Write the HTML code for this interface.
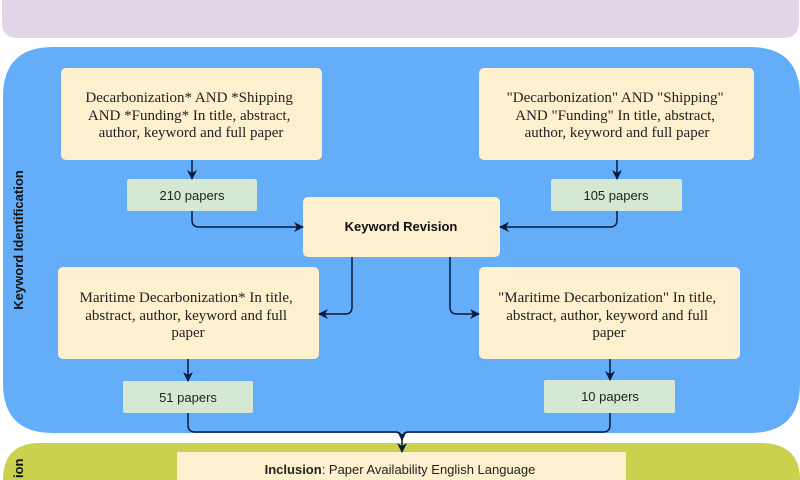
<!DOCTYPE html>
<html><head><meta charset="utf-8"><style>
html,body{margin:0;padding:0;width:800px;height:480px;overflow:hidden;background:#fff}
svg{display:block}
.s{font-family:"Liberation Serif",serif;font-size:15px;fill:#222}
.a{font-family:"Liberation Sans",sans-serif;font-size:13px;fill:#222}
</style></head><body>
<svg width="800" height="480" viewBox="0 0 800 480" xmlns="http://www.w3.org/2000/svg">
<defs><marker id="m" markerWidth="10" markerHeight="10" refX="9" refY="5" orient="auto" markerUnits="userSpaceOnUse"><path d="M0,0 L10,5 L0,10 L3,5 Z" fill="#0a1a3a"/></marker></defs>
<path d="M2,0 H799 V22 Q799,38 783,38 H18 Q2,38 2,22 Z" fill="#e1d5e7"/>
<path d="M53,47 H750 Q800,47 800,97 V383 Q800,433 750,433 H53 Q3,433 3,383 V97 Q3,47 53,47 Z" fill="#64adf8"/>
<path d="M40,443 H760 Q800,443 800,480 H3 Q3,443 40,443 Z" fill="#c9d14f"/>
<text transform="translate(23,240) rotate(-90)" text-anchor="middle" font-family="Liberation Sans,sans-serif" font-weight="bold" font-size="13" fill="#111">Keyword Identification</text>
<text transform="translate(23,478) rotate(-90)" text-anchor="start" font-family="Liberation Sans,sans-serif" font-weight="bold" font-size="13" fill="#111">ion</text>
<g fill="#fdf0cf">
<rect x="61" y="68" width="261" height="92" rx="5"/>
<rect x="479" y="68" width="275" height="92" rx="5"/>
<rect x="303" y="197" width="197" height="60" rx="5"/>
<rect x="58" y="267" width="261" height="92" rx="5"/>
<rect x="479" y="267" width="261" height="92" rx="5"/>
<rect x="177" y="452" width="449" height="28"/>
</g>
<g fill="#d5e8d4">
<rect x="127" y="179" width="130" height="32" rx="2"/>
<rect x="551" y="179" width="131" height="32" rx="2"/>
<rect x="123" y="381" width="130" height="32" rx="2"/>
<rect x="544" y="380" width="131" height="33" rx="2"/>
</g>
<g fill="none" stroke="#0a1a3a" stroke-width="1.5" marker-end="url(#m)">
<path d="M192,160 V179"/>
<path d="M617,160 V179"/>
<path d="M188,359 V381"/>
<path d="M610,359 V380"/>
<path d="M192,211 V220 Q192,227 199,227 H303"/>
<path d="M617,211 V220 Q617,227 610,227 H500"/>
<path d="M352,257 V307 Q352,314 345,314 H319"/>
<path d="M450,257 V307 Q450,314 457,314 H479"/>
<path d="M188,413 V425 Q188,432 195,432 H395 Q402,432 402,440 V452"/>
<path d="M610,413 V425 Q610,432 603,432 H409 Q402,432 402,440"/>
</g>
<text class="s" text-anchor="middle">
<tspan x="191" y="102">Decarbonization* AND *Shipping</tspan>
<tspan x="191" y="120">AND *Funding* In title, abstract,</tspan>
<tspan x="191" y="137">author, keyword and full paper</tspan>
</text>
<text class="s" text-anchor="middle">
<tspan x="617" y="102">"Decarbonization" AND "Shipping"</tspan>
<tspan x="617" y="120">AND "Funding"  In title, abstract,</tspan>
<tspan x="617" y="137">author, keyword and full paper</tspan>
</text>
<text class="s" text-anchor="middle">
<tspan x="188" y="302">Maritime Decarbonization* In title,</tspan>
<tspan x="188" y="320">abstract, author, keyword and full</tspan>
<tspan x="188" y="337">paper</tspan>
</text>
<text class="s" text-anchor="middle">
<tspan x="609" y="302">"Maritime Decarbonization" In title,</tspan>
<tspan x="609" y="320">abstract, author, keyword and full</tspan>
<tspan x="609" y="337">paper</tspan>
</text>
<text x="401" y="231" text-anchor="middle" font-family="Liberation Sans,sans-serif" font-weight="bold" font-size="13" fill="#111">Keyword Revision</text>
<text class="a" x="192" y="200" text-anchor="middle">210 papers</text>
<text class="a" x="616" y="200" text-anchor="middle">105 papers</text>
<text class="a" x="188" y="402" text-anchor="middle">51 papers</text>
<text class="a" x="610" y="401" text-anchor="middle">10 papers</text>
<text class="a" x="400" y="474" text-anchor="middle" font-size="12"><tspan font-weight="bold">Inclusion</tspan>: Paper Availability English Language</text>
</svg>
</body></html>
